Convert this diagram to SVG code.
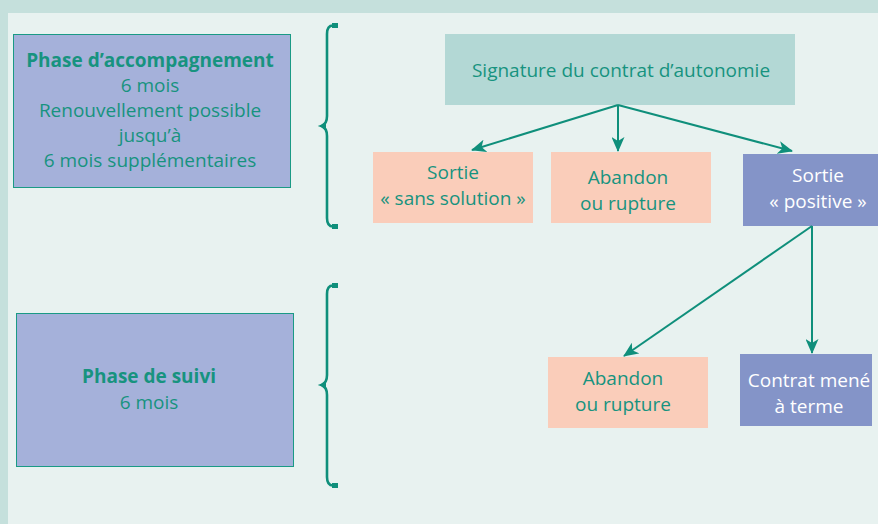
<svg xmlns="http://www.w3.org/2000/svg" width="878" height="524" viewBox="0 0 878 524">
<defs>
<style>
.t{font-family:"Open Sans","Noto Sans","Liberation Sans",sans-serif;font-size:19px;fill:#17937f;text-anchor:middle}
.w{fill:#ffffff}
.b{font-weight:bold;font-size:19px}
.phase{fill:#a5b1da;stroke:#1a9a85;stroke-width:1}
.sig{fill:#b3d8d5}
.peach{fill:#facdba}
.blue{fill:#8494c8}
.con{fill:none;stroke:#0f8f7b;stroke-width:2}
.brace{fill:none;stroke:#0f8f7b;stroke-width:2.6}
.cap{fill:#0f8f7b}
</style>
<marker id="ah" markerUnits="userSpaceOnUse" viewBox="0 0 15 13" markerWidth="15" markerHeight="13" refX="14" refY="6.5" orient="auto">
<path d="M0,0 L15,6.5 L0,13 L4,6.5 Z" fill="#0f8f7b"/>
</marker>
</defs>
<rect x="0" y="0" width="878" height="524" fill="#c5e0dc"/>
<rect x="8" y="13" width="870" height="511" fill="#e8f2f0"/>

<g id="phase-accompagnement">
<rect class="phase" x="13.5" y="34.5" width="277" height="153"/>
<text class="t b" x="150" y="67">Phase d’accompagnement</text>
<text class="t" x="150" y="92">6 mois</text>
<text class="t" x="150" y="117">Renouvellement possible</text>
<text class="t" x="150" y="142">jusqu’à</text>
<text class="t" x="150" y="167">6 mois supplémentaires</text>
</g>

<g id="phase-suivi">
<rect class="phase" x="16.5" y="313.5" width="277" height="153"/>
<text class="t b" x="149" y="383">Phase de suivi</text>
<text class="t" x="149" y="409">6 mois</text>
</g>

<g id="brace-1">
<path class="brace" d="M338,25.5 H333 Q327,25.5 327,34 V116 Q327,124 321.5,126 Q327,128 327,136 V218 Q327,226.5 333,226.5 H338"/>
<rect class="cap" x="332" y="23" width="6" height="5"/>
<rect class="cap" x="332" y="224" width="6" height="5"/>
<path class="cap" d="M320,126 L326,121 L326,131 Z"/>
</g>

<g id="brace-2">
<path class="brace" d="M338,285.5 H333 Q327,285.5 327,294 V375 Q327,383 321.5,385 Q327,387 327,395 V477 Q327,485.5 333,485.5 H338"/>
<rect class="cap" x="332" y="283" width="6" height="5"/>
<rect class="cap" x="332" y="483" width="6" height="5"/>
<path class="cap" d="M320,385 L326,380 L326,390 Z"/>
</g>

<g id="signature">
<rect class="sig" x="445" y="34" width="350" height="71"/>
<text class="t" x="621" y="77">Signature du contrat d’autonomie</text>
</g>

<g id="sortie-sans-solution">
<rect class="peach" x="373" y="152" width="160" height="71"/>
<text class="t" x="453" y="179">Sortie</text>
<text class="t" x="453" y="205">« sans solution »</text>
</g>

<g id="abandon-1">
<rect class="peach" x="551" y="152" width="160" height="71"/>
<text class="t" x="628" y="184">Abandon</text>
<text class="t" x="628" y="210">ou rupture</text>
</g>

<g id="sortie-positive">
<rect class="blue" x="743" y="154" width="135" height="72"/>
<text class="t w" x="818" y="182">Sortie</text>
<text class="t w" x="818" y="208">« positive »</text>
</g>

<g id="abandon-2">
<rect class="peach" x="548" y="357" width="160" height="71"/>
<text class="t" x="623" y="385">Abandon</text>
<text class="t" x="623" y="411">ou rupture</text>
</g>

<g id="contrat-mene">
<rect class="blue" x="740" y="354" width="132" height="72"/>
<text class="t w" x="809" y="387">Contrat mené</text>
<text class="t w" x="809" y="413">à terme</text>
</g>

<g id="connectors">
<line class="con" x1="618" y1="105" x2="472" y2="150" marker-end="url(#ah)"/>
<line class="con" x1="618" y1="105" x2="618" y2="151" marker-end="url(#ah)"/>
<line class="con" x1="618" y1="105" x2="792" y2="151" marker-end="url(#ah)"/>
<line class="con" x1="812" y1="226" x2="624" y2="356" marker-end="url(#ah)"/>
<line class="con" x1="812" y1="226" x2="812" y2="353" marker-end="url(#ah)"/>
</g>
</svg>
